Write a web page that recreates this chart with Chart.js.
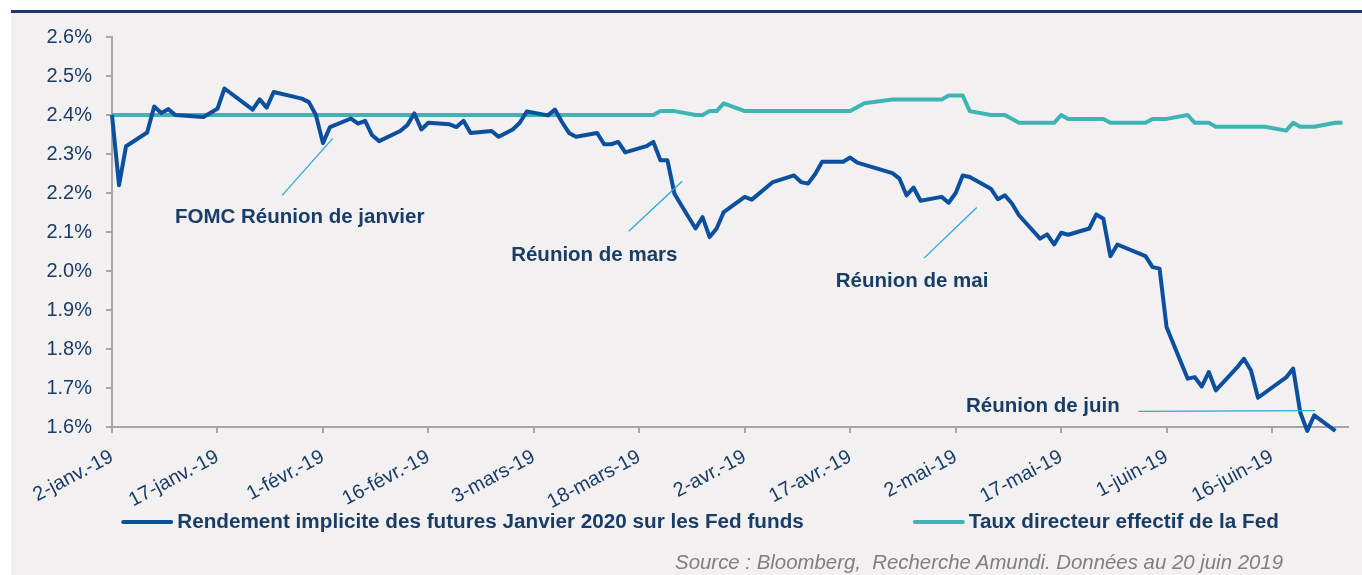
<!DOCTYPE html>
<html>
<head>
<meta charset="utf-8">
<script src="https://cdn.jsdelivr.net/npm/chart.js"></script>
<style>
  html, body { margin: 0; padding: 0; background: #ffffff; }
  #panel { position: absolute; left: 11px; top: 10px; width: 1351px; height: 565px; background: #f2f0f1; border-top: 3px solid #1f3864; box-sizing: border-box; }
  #wrap { position: absolute; left: 0; top: 0; width: 1362px; height: 575px; }
  #source { position: absolute; right: 79px; top: 551px; font: italic 20.4px "Liberation Sans", Arial, sans-serif; color: #7f7f7f; white-space: pre; }
</style>
</head>
<body>
<div id="panel"></div>
<div id="wrap"><canvas id="chart"></canvas></div>
<div id="source">Source : Bloomberg,  Recherche Amundi. Données au 20 juin 2019</div>
<script>
// days counted from 2 Jan 2019
var tickLabels = ['2-janv.-19', '17-janv.-19', '1-févr.-19', '16-févr.-19', '3-mars-19', '18-mars-19',
  '2-avr.-19', '17-avr.-19', '2-mai-19', '17-mai-19', '1-juin-19', '16-juin-19'];

var seriesNames = ['Rendement implicite des futures Janvier 2020 sur les Fed funds', 'Taux directeur effectif de la Fed'];

var futDays = [0, 1, 2, 5, 6, 7, 8, 9, 13, 15, 16, 20, 21, 22, 23, 27, 28, 29, 30, 31, 34, 35, 36, 37, 38,
  41, 42, 43, 44, 45, 48, 49, 50, 51, 54, 55, 57, 58, 59, 62, 63, 64, 65, 66, 69, 70, 71, 72, 73, 76, 77,
  78, 79, 80, 81, 83, 84, 85, 86, 87, 90, 91, 94, 97, 98, 99, 100, 101, 104, 105, 106, 111, 112, 113, 114,
  115, 118, 119, 120, 121, 122, 125, 126, 127, 128, 129, 132, 133, 134, 135, 136, 139, 140, 141, 142, 143,
  147, 148, 149, 150, 153, 154, 155, 156, 157, 160, 161, 162, 163, 167, 168, 169, 170, 171, 174];
var futRates = [2.40, 2.22, 2.32, 2.355, 2.422, 2.405, 2.415, 2.40, 2.395, 2.416, 2.468, 2.414, 2.44, 2.419, 2.459,
  2.442, 2.433, 2.40, 2.328, 2.369, 2.391, 2.378, 2.385, 2.348, 2.333, 2.359, 2.374, 2.404, 2.363, 2.38,
  2.376, 2.369, 2.385, 2.354, 2.359, 2.344, 2.363, 2.38, 2.409, 2.399, 2.414, 2.382, 2.354, 2.344, 2.354,
  2.325, 2.325, 2.331, 2.304, 2.32, 2.331, 2.284, 2.284, 2.198, 2.168, 2.109, 2.138, 2.087, 2.109, 2.151,
  2.19, 2.183, 2.228, 2.245, 2.228, 2.224, 2.248, 2.28, 2.28, 2.291, 2.278, 2.251, 2.237, 2.194, 2.214,
  2.18, 2.19, 2.175, 2.2, 2.245, 2.241, 2.211, 2.184, 2.194, 2.173, 2.143, 2.083, 2.094, 2.068, 2.098,
  2.093, 2.109, 2.145, 2.134, 2.038, 2.068, 2.038, 2.01, 2.006, 1.856, 1.724, 1.728, 1.704, 1.741, 1.694,
  1.752, 1.775, 1.745, 1.675, 1.727, 1.75, 1.638, 1.59, 1.63, 1.59];

var fedDays = [0, 77, 78, 80, 83, 84, 85, 86, 87, 90, 105, 107, 111, 118, 119, 121, 122, 125, 127, 129, 134,
  135, 136, 141, 142, 147, 148, 150, 153, 154, 156, 157, 164, 167, 168, 169, 171, 174, 175];
var fedRates = [2.40, 2.40, 2.41, 2.41, 2.40, 2.40, 2.41, 2.41, 2.43, 2.41, 2.41, 2.43, 2.44, 2.44, 2.45, 2.45,
  2.41, 2.40, 2.40, 2.38, 2.38, 2.40, 2.39, 2.39, 2.38, 2.38, 2.39, 2.39, 2.40, 2.38, 2.38, 2.37, 2.37,
  2.36, 2.38, 2.37, 2.37, 2.38, 2.38];

var navy = '#1a3d66';
var axisGrey = '#a6a6a6';
var fontFam = '"Liberation Sans", Arial, sans-serif';

function toPoints(xs, ys) {
  return xs.map(function (d, i) { return {x: d, y: ys[i]}; });
}

// annotations in data units (day, %)
var notes = [
  {text: 'FOMC Réunion de janvier', at: [26.7, 2.138], from: [24.2, 2.194], to: [31.4, 2.34]},
  {text: 'Réunion de mars', at: [68.6, 2.040], from: [73.5, 2.102], to: [81.1, 2.23]},
  {text: 'Réunion de mai', at: [113.8, 1.973], from: [115.5, 2.033], to: [123, 2.163]},
  {text: 'Réunion de juin', at: [132.4, 1.653], from: [146, 1.64], to: [171.1, 1.642]}
];

var notesPlugin = {
  id: 'notes',
  afterDatasetsDraw: function (chart) {
    var ctx = chart.ctx, xs = chart.scales.x, ys = chart.scales.y;
    ctx.save();
    notes.forEach(function (n) {
      ctx.strokeStyle = '#2aa7df';
      ctx.lineWidth = 1.3;
      ctx.beginPath();
      ctx.moveTo(xs.getPixelForValue(n.from[0]), ys.getPixelForValue(n.from[1]));
      ctx.lineTo(xs.getPixelForValue(n.to[0]), ys.getPixelForValue(n.to[1]));
      ctx.stroke();
      ctx.fillStyle = navy;
      ctx.font = 'bold 20.5px ' + fontFam;
      ctx.textAlign = 'center';
      ctx.textBaseline = 'middle';
      ctx.fillText(n.text, xs.getPixelForValue(n.at[0]), ys.getPixelForValue(n.at[1]));
    });
    ctx.restore();
  }
};

// legend row drawn under the axis
var legendPlugin = {
  id: 'rowLegend',
  afterDraw: function (chart) {
    var ctx = chart.ctx;
    var y = 522, lineW = 52, textGap = 4, itemGap = 109, centre = 700;
    ctx.save();
    ctx.font = 'bold 20.7px ' + fontFam;
    var widths = chart.data.datasets.map(function (ds) { return lineW + textGap + ctx.measureText(ds.label).width; });
    var total = widths.reduce(function (a, b) { return a + b; }, 0) + itemGap * (widths.length - 1);
    var x = centre - total / 2;
    chart.data.datasets.forEach(function (ds, i) {
      ctx.strokeStyle = ds.borderColor;
      ctx.lineWidth = 4;
      ctx.lineCap = 'round';
      ctx.beginPath();
      ctx.moveTo(x + 2, y);
      ctx.lineTo(x + lineW - 2, y);
      ctx.stroke();
      ctx.fillStyle = navy;
      ctx.textAlign = 'left';
      ctx.textBaseline = 'middle';
      ctx.fillText(ds.label, x + lineW + textGap, y);
      x += widths[i] + itemGap;
    });
    ctx.restore();
  }
};

var ctx = document.getElementById('chart').getContext('2d');
var myChart = new Chart(ctx, {
  type: 'line',
  data: {
    datasets: [
      {
        label: seriesNames[0],
        data: toPoints(futDays, futRates),
        borderColor: '#0b4f9e',
        borderWidth: 4,
        pointRadius: 0,
        tension: 0,
        borderJoinStyle: 'round',
        clip: 8
      },
      {
        label: seriesNames[1],
        data: toPoints(fedDays, fedRates),
        borderColor: '#3fb4b5',
        borderWidth: 4,
        pointRadius: 0,
        tension: 0,
        borderJoinStyle: 'round',
        clip: 8
      }
    ]
  },
  options: {
    responsive: true,
    maintainAspectRatio: false,
    animation: false,
    layout: { padding: { left: 38, right: 14, top: 37, bottom: 60 } },
    plugins: {
      legend: { display: false },
      tooltip: { enabled: false }
    },
    scales: {
      x: {
        type: 'linear',
        min: 0,
        max: 175.8,
        afterFit: function (scale) { scale.height = 88; },
        grid: { drawOnChartArea: false, drawTicks: true, tickLength: 6, color: axisGrey, lineWidth: 2 },
        border: { color: axisGrey, width: 2 },
        ticks: {
          stepSize: 15,
          includeBounds: false,
          autoSkip: false,
          minRotation: 28,
          maxRotation: 28,
          padding: 12,
          color: navy,
          font: { family: fontFam, size: 20 },
          callback: function (v) { return tickLabels[Math.round(v / 15)]; }
        }
      },
      y: {
        min: 1.6,
        max: 2.6,
        afterFit: function (scale) { scale.width = 74; },
        grid: { drawOnChartArea: false, drawTicks: true, tickLength: 6, color: axisGrey, lineWidth: 2 },
        border: { color: axisGrey, width: 2 },
        ticks: {
          stepSize: 0.1,
          padding: 14,
          color: navy,
          font: { family: fontFam, size: 20 },
          callback: function (v) { return v.toFixed(1) + '%'; }
        }
      }
    }
  },
  plugins: [notesPlugin, legendPlugin]
});
</script>
</body>
</html>
